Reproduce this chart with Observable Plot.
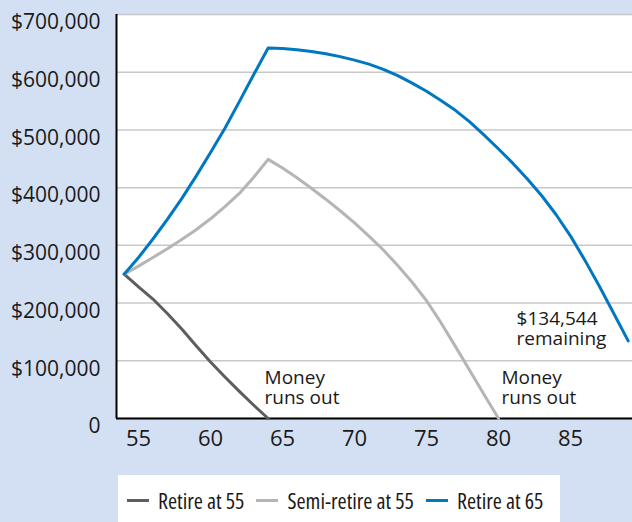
<!DOCTYPE html>
<html>
<head>
<meta charset="utf-8">
<script src="https://cdn.jsdelivr.net/npm/d3@7"></script>
<script src="https://cdn.jsdelivr.net/npm/@observablehq/plot@0.6"></script>
<style>
  html, body { margin: 0; padding: 0; background: #d3e0f3; }
  body { position: relative; width: 632px; height: 522px; overflow: hidden;
         font-family: "Open Sans", sans-serif; color: #1a1a1a; }
  #chart { position: absolute; left: 0; top: 0; }
  #legend { position: absolute; left: 118px; top: 475px; width: 442px; height: 50px; background: #fff;
            display: flex; align-items: center; font-size: 22px; font-stretch: 75%; padding-left: 9px; box-sizing: border-box; }
  .item { display: flex; align-items: center; margin-right: 12px; white-space: nowrap; }
  .sw { display: inline-block; width: 22px; height: 3px; margin-right: 9px; }
</style>
</head>
<body>
<div id="chart"></div>
<div id="legend"></div>
<script>
const ages = [54,55,56,57,58,59,60,61,62,63,64,65,66,67,68,69,70,71,72,73,74,75,76,77,78,79,80,81,82,83,84,85,86,87,88,89];
const retire55 = [250000,228000,207000,182000,155000,126000,98000,72000,47000,23000,0];
const semiRetire55 = [250000,264000,279000,294000,310000,327000,346000,367000,390000,418000,449000,434000,417000,399000,380000,360000,339000,316000,292000,265000,236000,204000,166000,125000,83000,41000,0];
const retire65 = [250000,279000,311000,345000,381000,420000,461000,503000,549000,596000,642000,641000,639000,636000,632000,627000,621000,614000,605000,594000,581000,567000,551000,534000,514000,491000,467000,442000,415000,386000,353000,316000,274000,229000,182000,134544];
const seriesNames = ["Retire at 55", "Semi-retire at 55", "Retire at 65"];
const seriesColors = ["#5e5e5e", "#b5b5b5", "#0077c1"];
const yTicks = [0,100000,200000,300000,400000,500000,600000,700000];
const xTicks = [55,60,65,70,75,80,85];
const notes = [
  {age: 63.75, value: 84000, label: "Money\nruns out"},
  {age: 80.2, value: 84000, label: "Money\nruns out"},
  {age: 81.25, value: 186000, label: "$134,544\nremaining"}
];

const xDomain = [53.47, 89.3];
const yDomain = [0, 700000];
const seriesValues = [retire55, semiRetire55, retire65];
const table = seriesValues.flatMap((vals, i) => vals.map((v, j) => ({age: ages[j], value: v, series: seriesNames[i]})));

const fmt = d => d === 0 ? "0" : "$" + d3.format(",")(d);

const chart = Plot.plot({
  width: 632,
  height: 462,
  marginLeft: 116,
  marginRight: 0,
  marginTop: 14,
  marginBottom: 44,
  style: {fontFamily: '"Open Sans", sans-serif', fontSize: "21px", color: "#1a1a1a", background: "transparent", overflow: "visible"},
  x: {domain: xDomain},
  y: {domain: yDomain},
  color: {domain: seriesNames, range: seriesColors},
  marks: [
    Plot.frame({fill: "#ffffff", stroke: null}),
    Plot.gridY(yTicks, {stroke: "#c8c8c8", strokeOpacity: 1, strokeWidth: 1.5}),
    Plot.axisY(yTicks, {tickSize: 0, tickPadding: 16, tickFormat: fmt, dy: 8, fontSize: 21, label: null}),
    Plot.axisX(xTicks, {tickSize: 0, tickPadding: 12, fontSize: 22, label: null}),
    Plot.ruleX([xDomain[0]], {stroke: "#000", strokeWidth: 2}),
    Plot.ruleY([0], {stroke: "#000", strokeWidth: 2}),
    Plot.line(table, {x: "age", y: "value", z: "series", stroke: "series", strokeWidth: 3}),
    Plot.text(notes, {x: "age", y: "value", text: "label", textAnchor: "start", lineAnchor: "top", lineHeight: 1.05, fontSize: 19, fill: "#1a1a1a"})
  ]
});
document.getElementById("chart").appendChild(chart);

const legend = document.getElementById("legend");
seriesNames.forEach((name, i) => {
  const item = document.createElement("span");
  item.className = "item";
  const sw = document.createElement("span");
  sw.className = "sw";
  sw.style.background = seriesColors[i];
  item.appendChild(sw);
  item.appendChild(document.createTextNode(name));
  legend.appendChild(item);
});
</script>
</body>
</html>
